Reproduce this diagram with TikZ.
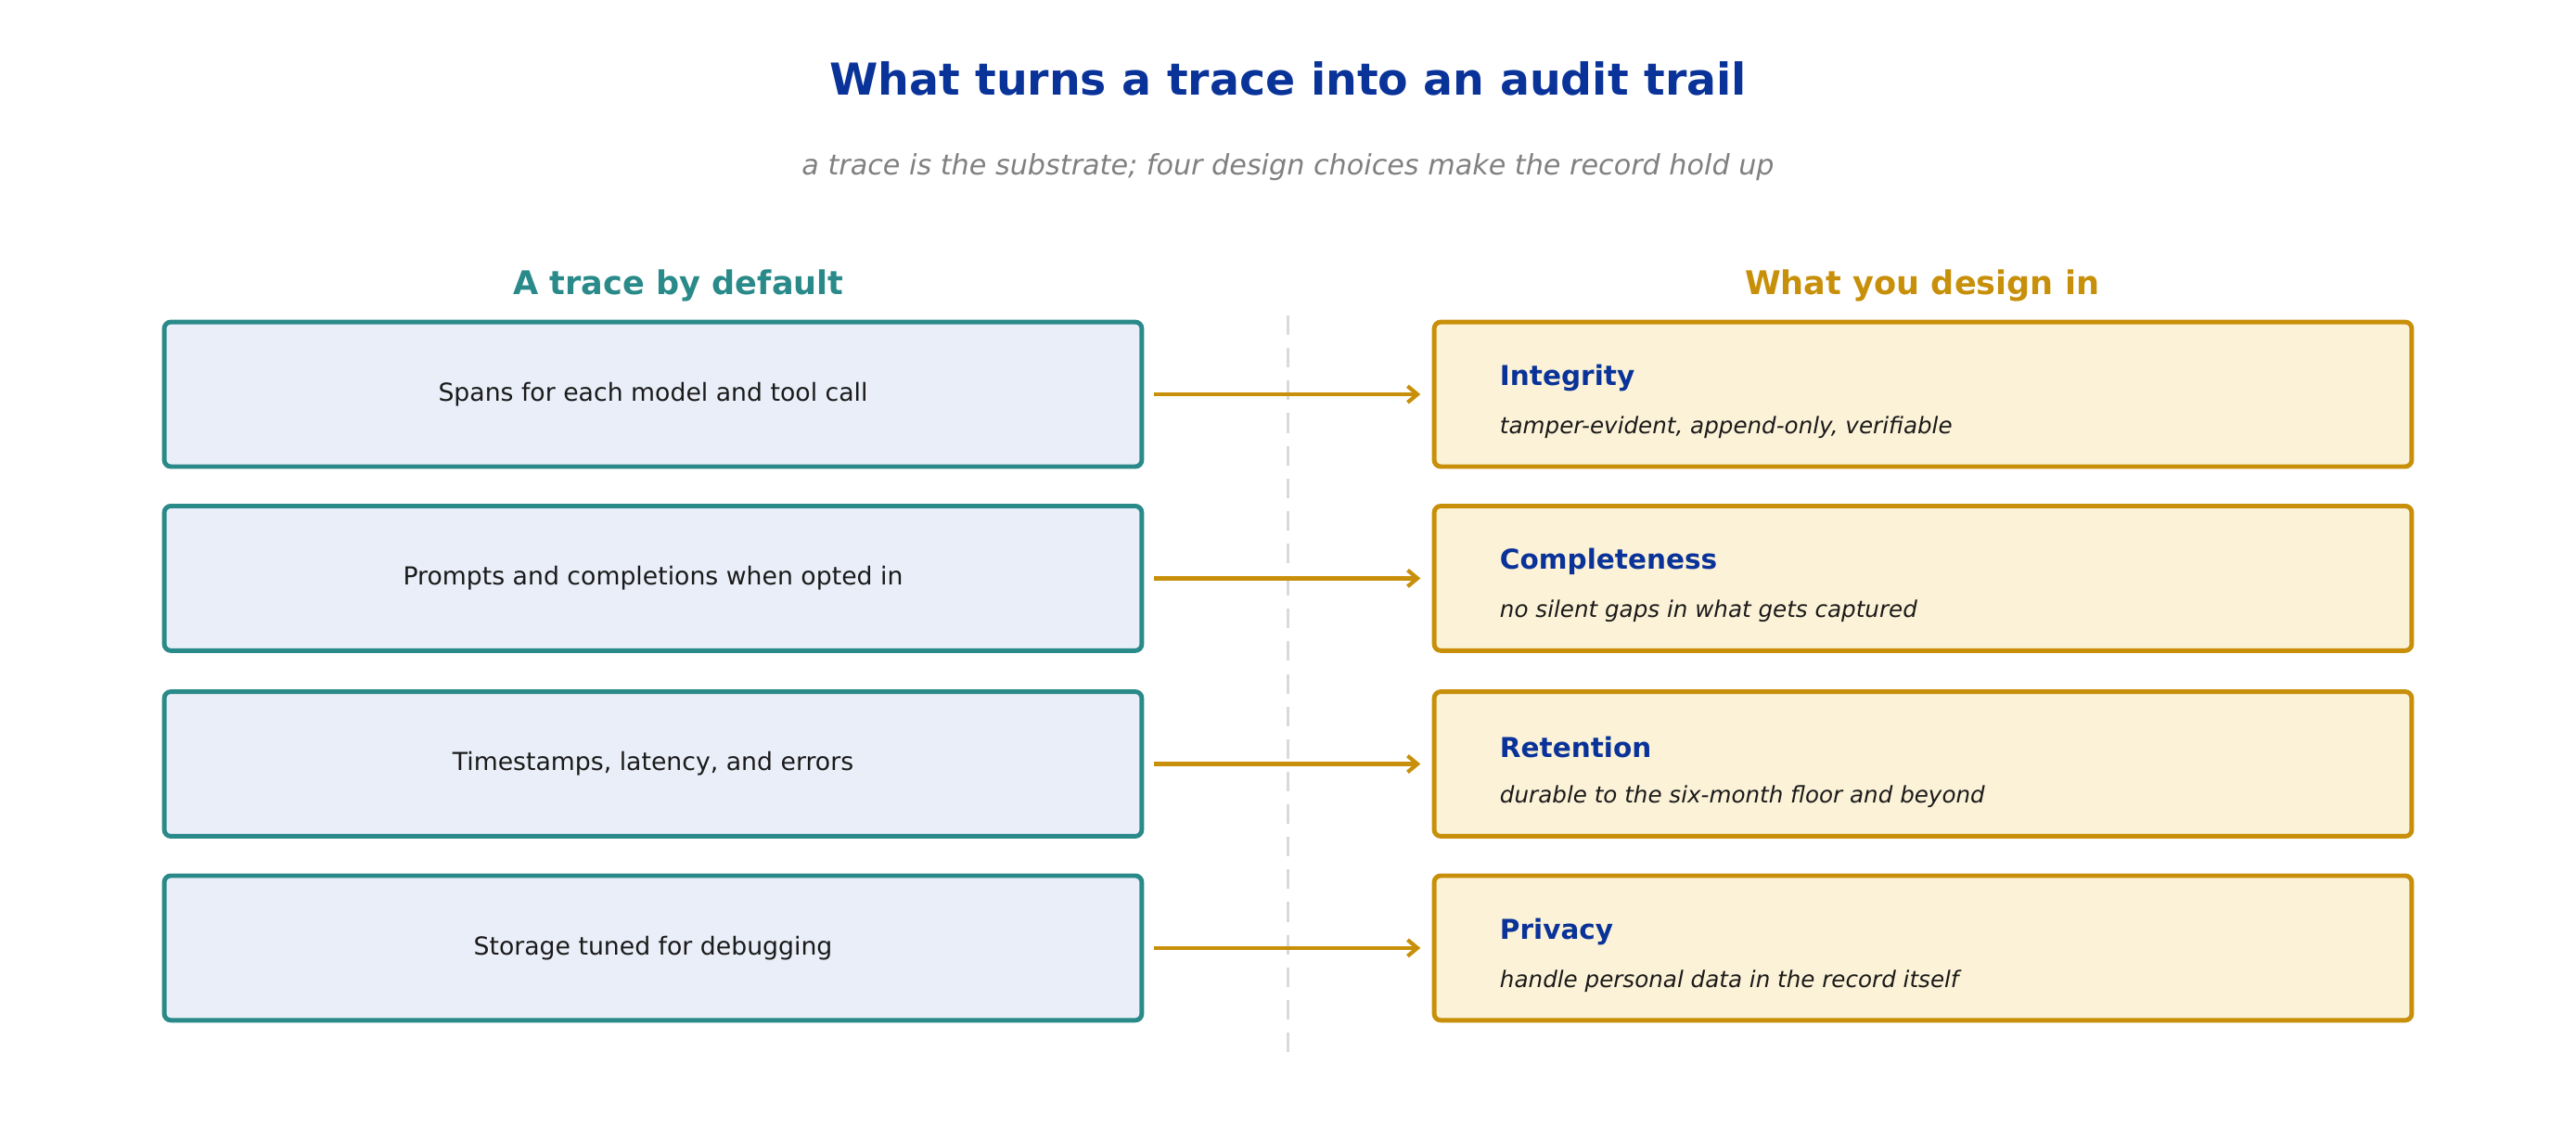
\documentclass[tikz,border=0pt]{standalone}
\usepackage{fontspec}
\setmainfont{DejaVu Sans}
\usetikzlibrary{arrows.meta}
\definecolor{tblue}{HTML}{0A3399}
\definecolor{teal}{HTML}{2A8A8A}
\definecolor{gold}{HTML}{C8900A}
\definecolor{lfill}{HTML}{E9EEF8}
\definecolor{cfill}{HTML}{FCF2D7}
\definecolor{txt}{HTML}{1A1A1A}
\begin{document}
\begin{tikzpicture}[x=0.01771cm,y=-0.01771cm,
  lbox/.style={draw=teal,fill=lfill,line width=1.4pt,rounded corners=2pt,minimum width=595*0.01771cm,minimum height=88*0.01771cm,font=\fontsize{7.6}{9}\selectfont,text=txt},
  rbox/.style={draw=gold,fill=cfill,line width=1.4pt,rounded corners=2pt,minimum width=595*0.01771cm,minimum height=88*0.01771cm},
  ttl/.style={anchor=west,font=\bfseries\fontsize{8.4}{10}\selectfont,text=tblue},
  sub/.style={anchor=west,font=\itshape\fontsize{7}{9}\selectfont,text=txt},
  arr/.style={draw=gold,line width=1.2pt,-{Straight Barb[length=3pt,width=5pt]}}]
\useasboundingbox (0,0) rectangle (1568,687);
\node (title) at (784,48) {\bfseries\fontsize{13.5}{16}\selectfont\color{tblue}What turns a trace into an audit trail};
\node (subt) at (784,102) {\itshape\fontsize{8.6}{10}\selectfont\color{gray}a trace is the substrate; four design choices make the record hold up};
\node (hl) at (413,174) {\bfseries\fontsize{10}{12}\selectfont\color{teal}A trace by default};
\node (hr) at (1170,174) {\bfseries\fontsize{10}{12}\selectfont\color{gold}What you design in};
\coordinate (d1) at (784,192); \coordinate (d2) at (784,642);
\draw[dashed,black!15,line width=1pt,dash pattern=on 6pt off 4pt] (d1) -- (d2);
\foreach \i/\y/\l/\t/\s in {1/240/Spans for each model and tool call/Integrity/tamper-evident{,} append-only{,} verifiable,
  2/352/Prompts and completions when opted in/Completeness/no silent gaps in what gets captured,
  3/465/{Timestamps, latency, and errors}/Retention/durable to the six-month floor and beyond,
  4/577/Storage tuned for debugging/Privacy/handle personal data in the record itself}{
  \node[lbox] (L\i) at (397.5,\y) {\l};
  \node[rbox] (R\i) at (1170.5,\y) {};
  \node[ttl] (T\i) at (906,\y-10) {\t};
  \node[sub] (S\i) at (906,\y+20) {\s};
  \draw[arr] ([xshift=6*0.01771cm]L\i.east) -- ([xshift=-7*0.01771cm]R\i.west);
}
\end{tikzpicture}
\end{document}
